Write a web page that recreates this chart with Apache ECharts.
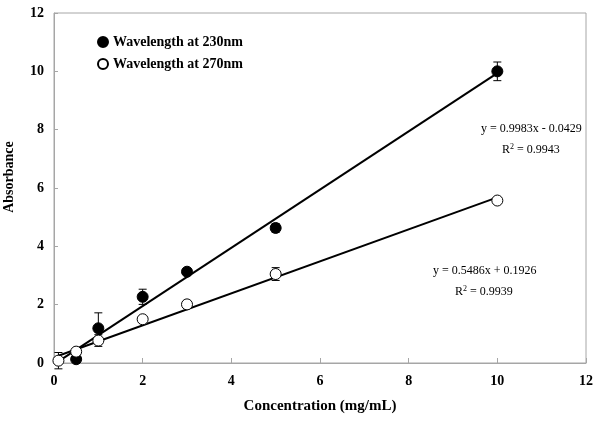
<!DOCTYPE html>
<html><head><meta charset="utf-8">
<script src="https://cdn.jsdelivr.net/npm/echarts@6/dist/echarts.min.js"></script>
<style>html,body{margin:0;padding:0;background:#fff}#c{width:596px;height:423px}</style>
</head><body><div id="c"></div>
<script>
// Data
var conc230 = [0.5, 1, 2, 3, 5, 10];
var abs230 = [0.13, 1.19, 2.27, 3.13, 4.63, 10.0];
var err230 = [0.05, 0.53, 0.26, 0.1, 0.15, 0.32];
var conc270 = [0.1, 0.5, 1, 2, 3, 5, 10];
var abs270 = [0.08, 0.39, 0.77, 1.5, 2.01, 3.05, 5.57];
var err270 = [0.28, 0.05, 0.2, 0.06, 0.13, 0.22, 0.1];
var trend230 = [[0.1, 0.057], [10, 9.94]];
var trend270 = [[0.1, 0.248], [10, 5.679]];
var xTicks = [0, 2, 4, 6, 8, 10, 12];
var yTicks = [0, 2, 4, 6, 8, 10, 12];
var eq230 = ['y = 0.9983x - 0.0429', '0.9943'];
var eq270 = ['y = 0.5486x + 0.1926', '0.9939'];
var legendNames = ['Wavelength at 230nm', 'Wavelength at 270nm'];

var FONT = '"Liberation Serif", "Times New Roman", serif';
function pts(xs, ys) { return xs.map(function (x, i) { return [x, ys[i]]; }); }
function errData(xs, ys, es) { return xs.map(function (x, i) { return [x, ys[i] - es[i], ys[i] + es[i]]; }); }
function errRender(params, api) {
  var x = api.value(0);
  var lo = api.coord([x, api.value(1)]);
  var hi = api.coord([x, api.value(2)]);
  var w = 4;
  var st = { stroke: '#000', lineWidth: 1 };
  return {
    type: 'group', children: [
      { type: 'line', shape: { x1: lo[0], y1: lo[1], x2: hi[0], y2: hi[1] }, style: st },
      { type: 'line', shape: { x1: lo[0] - w, y1: lo[1], x2: lo[0] + w, y2: lo[1] }, style: st },
      { type: 'line', shape: { x1: hi[0] - w, y1: hi[1], x2: hi[0] + w, y2: hi[1] }, style: st }
    ]
  };
}
function rEq(lines) {
  return {
    text: 'R{s|2} = ' + lines,
    rich: { s: { fontSize: 8, fontFamily: FONT, verticalAlign: 'top', padding: [0, 0, 6, 0] } },
    font: '12px ' + FONT, fill: '#000'
  };
}
var chart = echarts.init(document.getElementById('c'));
var axisLbl = { fontFamily: FONT, fontWeight: 'bold', fontSize: 14, color: '#000' };
chart.setOption({
  animation: false,
  backgroundColor: '#fff',
  grid: { left: 54, right: 10, top: 13, bottom: 60, containLabel: false, outerBoundsMode: 'none',
    show: true, borderColor: '#a6a6a6', borderWidth: 1 },
  legend: {
    orient: 'vertical', left: 92, top: 30, itemGap: 8, itemWidth: 10, itemHeight: 10,
    data: [{ name: legendNames[0], icon: 'circle' }, { name: legendNames[1], icon: 'circle' }],
    textStyle: { fontFamily: FONT, fontWeight: 'bold', fontSize: 14, color: '#000' }
  },
  xAxis: {
    type: 'value', min: 0, max: 12, interval: 2,
    name: 'Concentration (mg/mL)', nameLocation: 'middle', nameGap: 36,
    nameTextStyle: { fontFamily: FONT, fontWeight: 'bold', fontSize: 15, color: '#000' },
    axisLine: { lineStyle: { color: '#a6a6a6' } },
    axisTick: { inside: true, length: 5, lineStyle: { color: '#a6a6a6' } },
    axisLabel: Object.assign({ margin: 11, formatter: function (v) { return xTicks.indexOf(v) >= 0 ? String(v) : ''; } }, axisLbl),
    splitLine: { show: false }
  },
  yAxis: {
    type: 'value', min: 0, max: 12, interval: 2,
    name: 'Absorbance', nameLocation: 'middle', nameGap: 38,
    nameTextStyle: { fontFamily: FONT, fontWeight: 'bold', fontSize: 14, color: '#000', padding: [0, 0, 0, 22] },
    axisLine: { lineStyle: { color: '#a6a6a6' } },
    axisTick: { inside: true, length: 4, lineStyle: { color: '#a6a6a6' } },
    axisLabel: Object.assign({ margin: 10, formatter: function (v) { return yTicks.indexOf(v) >= 0 ? String(v) : ''; } }, axisLbl),
    splitLine: { show: false }
  },
  series: [
    { type: 'line', data: trend230, showSymbol: false, symbol: 'none', lineStyle: { color: '#000', width: 2 }, z: 2, silent: true },
    { type: 'line', data: trend270, showSymbol: false, symbol: 'none', lineStyle: { color: '#000', width: 2 }, z: 2, silent: true },
    { type: 'custom', renderItem: errRender, data: errData(conc230, abs230, err230), encode: { x: 0, y: [1, 2] }, z: 3 },
    { type: 'custom', renderItem: errRender, data: errData(conc270, abs270, err270), encode: { x: 0, y: [1, 2] }, z: 3 },
    { name: legendNames[0], type: 'scatter', data: pts(conc230, abs230), symbol: 'circle', symbolSize: 11,
      itemStyle: { color: '#000', borderColor: '#000', borderWidth: 1, opacity: 1 }, z: 4 },
    { name: legendNames[1], type: 'scatter', data: pts(conc270, abs270), symbol: 'circle', symbolSize: 11,
      itemStyle: { color: '#fff', borderColor: '#000', borderWidth: 1, opacity: 1 }, z: 5 }
  ],
  graphic: [
    { type: 'text', left: 481, top: 123, style: { text: eq230[0], font: '12px ' + FONT, fill: '#000' } },
    { type: 'text', left: 502, top: 143, style: rEq(eq230[1]) },
    { type: 'text', left: 433, top: 265, style: { text: eq270[0], font: '12px ' + FONT, fill: '#000' } },
    { type: 'text', left: 455, top: 285, style: rEq(eq270[1]) }
  ]
});
</script></body></html>
